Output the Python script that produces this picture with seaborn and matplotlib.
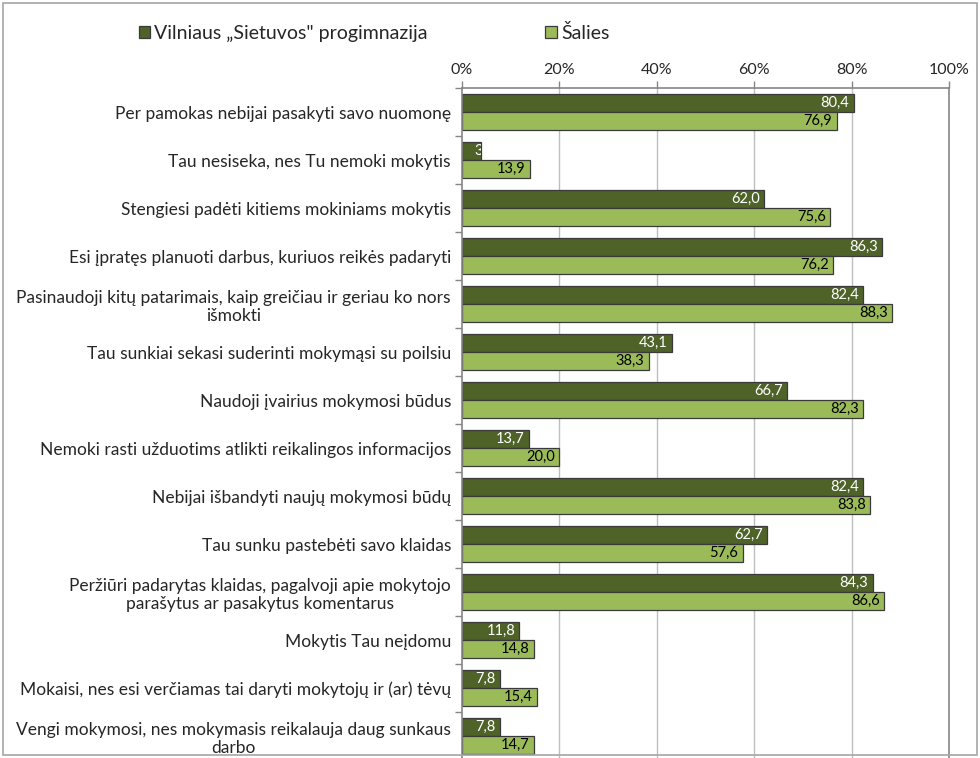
import matplotlib
matplotlib.use("Agg")
import matplotlib.pyplot as plt
import seaborn as sns
import pandas as pd
from matplotlib.patches import Rectangle, Patch
from matplotlib.ticker import FixedLocator

categories = [
    "Per pamokas nebijai pasakyti savo nuomonę",
    "Tau nesiseka, nes Tu nemoki mokytis",
    "Stengiesi padėti kitiems mokiniams mokytis",
    "Esi įpratęs planuoti darbus, kuriuos reikės padaryti",
    "Pasinaudoji kitų patarimais, kaip greičiau ir geriau ko nors\nišmokti",
    "Tau sunkiai sekasi suderinti mokymąsi su poilsiu",
    "Naudoji įvairius mokymosi būdus",
    "Nemoki rasti užduotims atlikti reikalingos informacijos",
    "Nebijai išbandyti naujų mokymosi būdų",
    "Tau sunku pastebėti savo klaidas",
    "Peržiūri padarytas klaidas, pagalvoji apie mokytojo\nparašytus ar pasakytus komentarus",
    "Mokytis Tau neįdomu",
    "Mokaisi, nes esi verčiamas tai daryti mokytojų ir (ar) tėvų",
    "Vengi mokymosi, nes mokymasis reikalauja daug sunkaus\ndarbo",
]
series_names = ["Vilniaus „Sietuvos\" progimnazija", "Šalies"]
school_values = [80.4, 3.9, 62.0, 86.3, 82.4, 43.1, 66.7, 13.7, 82.4, 62.7, 84.3, 11.8, 7.8, 7.8]
country_values = [76.9, 13.9, 75.6, 76.2, 88.3, 38.3, 82.3, 20.0, 83.8, 57.6, 86.6, 14.8, 15.4, 14.7]
tick_values = [0, 20, 40, 60, 80, 100]
tick_labels = ["0%", "20%", "40%", "60%", "80%", "100%"]

colors = ["#4F6228", "#9BBB59"]
text_colors = ["white", "black"]

df = pd.DataFrame({
    "cat": categories * 2,
    "value": school_values + country_values,
    "series": [series_names[0]] * len(categories) + [series_names[1]] * len(categories),
})

sns.set_theme(style="white")
plt.rcParams["font.family"] = ["Lato", "DejaVu Sans"]

fig = plt.figure(figsize=(9.8, 7.58), dpi=100)
ax = fig.add_axes([462 / 980, 1 - 760 / 758, 487 / 980, (760 - 88) / 758])

sns.barplot(data=df, x="value", y="cat", hue="series", orient="h",
            palette=colors, width=0.75, edgecolor="#3A3A3A", linewidth=0.9,
            ax=ax, legend=False, saturation=1)

ax.set_xlim(0, 100)
ax.set_ylim(len(categories) - 0.5, -0.5)
ax.xaxis.tick_top()
ax.xaxis.set_label_position("top")
ax.set_xticks(tick_values)
ax.set_xticklabels(tick_labels, fontsize=11.5)
ax.set_xlabel("")
ax.set_ylabel("")
ax.tick_params(axis="x", which="major", length=5, width=1, color="#868686", pad=3, top=True, bottom=False)
ax.set_yticks(range(len(categories)))
ax.set_yticklabels(categories, fontsize=12.5, ha="right", multialignment="center")
ax.tick_params(axis="y", which="major", length=0, pad=8)
ax.yaxis.set_minor_locator(FixedLocator([i - 0.5 for i in range(len(categories) + 1)]))
ax.tick_params(axis="y", which="minor", length=5, width=1, color="#868686", left=True)

for x in tick_values[1:-1]:
    ax.axvline(x, color="#BFBFBF", linewidth=1, zorder=0)
for s in ["top", "left", "right"]:
    ax.spines[s].set_color("#868686")
    ax.spines[s].set_linewidth(1.2)
ax.spines["bottom"].set_visible(False)

fig.canvas.draw()
renderer = fig.canvas.get_renderer()
for cont, tc in zip(ax.containers, text_colors):
    for bar in cont:
        w = bar.get_width()
        y = bar.get_y() + bar.get_height() / 2
        t = ax.annotate(f"{w:.1f}".replace(".", ","), xy=(w, y), xytext=(-3, 0),
                        textcoords="offset points", ha="right", va="center",
                        fontsize=10.5, color=tc)
        tw = t.get_window_extent(renderer).width
        bw = bar.get_window_extent(renderer).width
        if tw > bw:
            # label does not fit: shown clipped by the bar, as in the source
            t.set_ha("left")
            t.xyann = (-4.5, 0)
            t.set_clip_path(bar)

handles = [Patch(facecolor=c, edgecolor="#3A3A3A", linewidth=0.9) for c in colors]
fig.legend(handles, series_names, loc="center left", bbox_to_anchor=(129 / 980, 1 - 33 / 758),
           ncol=2, frameon=False, fontsize=14, handlelength=0.6, handleheight=0.6,
           handletextpad=0.2, columnspacing=6.05, borderpad=0)

fig.patches.append(Rectangle((3 / 980, 3 / 758), 974 / 980, 752 / 758, transform=fig.transFigure,
                             fill=False, edgecolor="#A6A6A6", linewidth=1.2))

fig.savefig("out.png", dpi=100)
